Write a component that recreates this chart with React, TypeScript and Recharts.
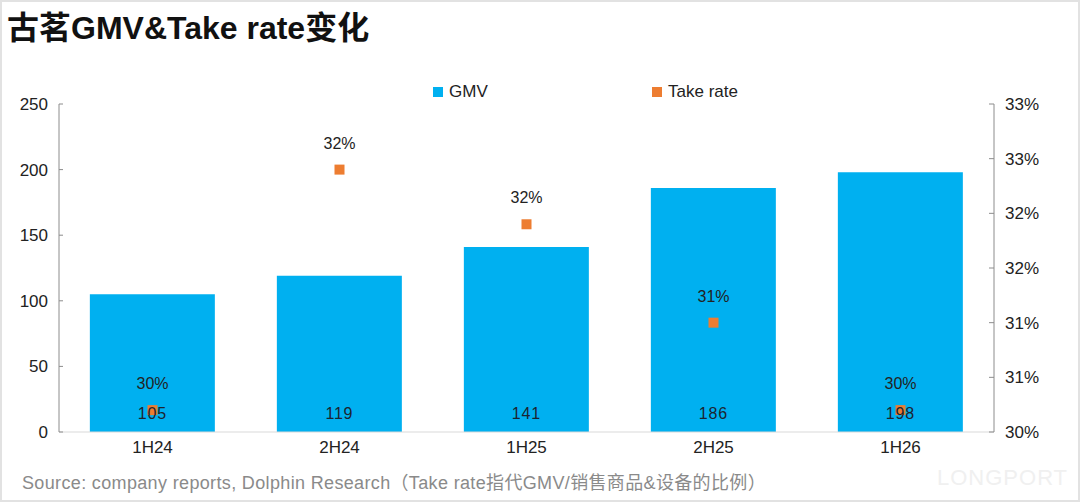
import React from 'react';
import {
  ComposedChart,
  Bar,
  Line,
  XAxis,
  YAxis,
  Legend,
  LabelList,
} from 'recharts';

const periods = ['1H24', '2H24', '1H25', '2H25', '1H26'];
const gmv = [105, 119, 141, 186, 198];
const takeRate = [30.2, 32.4, 31.9, 31.0, 30.2];
const gmvTicks = [0, 50, 100, 150, 200, 250];
const rateTicks = [30, 30.5, 31, 31.5, 32, 32.5, 33];

const data = periods.map((p, i) => ({ period: p, gmv: gmv[i], rate: takeRate[i] }));

const FONT = '"Liberation Sans", Arial, "Noto Sans CJK SC", sans-serif';
const BLUE = '#00B0F0';
const ORANGE = '#ED7D31';

const renderLegend = () => (
  <div style={{ position: 'relative', height: 26, fontFamily: FONT, fontSize: 17, color: '#222' }}>
    <div style={{ position: 'absolute', left: 433, top: 4, display: 'flex', alignItems: 'center' }}>
      <span style={{ width: 10, height: 10, background: BLUE, marginRight: 6 }} />
      GMV
    </div>
    <div style={{ position: 'absolute', left: 652, top: 4, display: 'flex', alignItems: 'center' }}>
      <span style={{ width: 10, height: 10, background: ORANGE, marginRight: 6 }} />
      Take rate
    </div>
  </div>
);

const barLabel = (props: any) => {
  const { x, y, width, height, value } = props;
  return (
    <text x={x + width / 2} y={y + height - 13} textAnchor="middle" fill="#1c2430" fontSize={16} fontFamily={FONT} letterSpacing={0.8}>
      {value}
    </text>
  );
};

const rateLabel = (props: any) => {
  const { x, y, value } = props;
  return (
    <text x={x} y={y - 21} textAnchor="middle" fill="#222" fontSize={16} fontFamily={FONT}>
      {Math.round(value)}%
    </text>
  );
};

const squareDot = (props: any) => {
  const { cx, cy, index } = props;
  return <rect key={index} x={cx - 5} y={cy - 5} width={10} height={10} fill={ORANGE} />;
};

export default function App() {
  return (
    <div
      style={{
        position: 'absolute',
        left: 0,
        top: 0,
        width: 1080,
        height: 502,
        background: '#fff',
        border: '2px solid #e2e2e2',
        boxSizing: 'border-box',
        fontFamily: FONT,
      }}
    >
      <div style={{ position: 'absolute', left: 5, top: 0, fontSize: 32, fontWeight: 'bold', color: '#111', whiteSpace: 'nowrap' }}>
        古茗GMV&amp;Take rate变化
      </div>
      <div style={{ position: 'absolute', left: -2, top: -2 }}>
        <ComposedChart
          width={1080}
          height={502}
          data={data}
          margin={{ top: 104, right: 0, left: 0, bottom: 40 }}
          barCategoryGap="16.5%"
        >
          <XAxis
            dataKey="period"
            tickSize={0}
            tickMargin={9}
            height={30}
            axisLine={{ stroke: '#d9d9d9' }}
            tick={{ fill: '#222', fontSize: 17, fontFamily: FONT }}
          />
          <YAxis
            yAxisId="left"
            width={59}
            domain={[0, 250]}
            ticks={gmvTicks}
            tickSize={-4}
            tickMargin={15}
            axisLine={{ stroke: '#8c8c8c' }}
            tickLine={{ stroke: '#8c8c8c' }}
            tick={{ fill: '#222', fontSize: 17, fontFamily: FONT }}
          />
          <YAxis
            yAxisId="right"
            orientation="right"
            width={86}
            domain={[30, 33]}
            ticks={rateTicks}
            tickSize={-5}
            tickMargin={16}
            axisLine={{ stroke: '#8c8c8c' }}
            tickLine={{ stroke: '#8c8c8c' }}
            tick={{ fill: '#222', fontSize: 17, fontFamily: FONT, textAnchor: 'start' }}
            tickFormatter={(v: number) => `${Math.round(v)}%`}
            allowDataOverflow
          />
          <Legend
            layout="horizontal"
            verticalAlign="middle"
            align="center"
            wrapperStyle={{ top: 78, left: 0, width: 1080 }}
            content={renderLegend}
          />
          <Bar yAxisId="left" dataKey="gmv" name="GMV" fill={BLUE} isAnimationActive={false}>
            <LabelList dataKey="gmv" content={barLabel} />
          </Bar>
          <Line
            yAxisId="right"
            dataKey="rate"
            name="Take rate"
            stroke="none"
            strokeWidth={0}
            dot={squareDot}
            activeDot={false}
            isAnimationActive={false}
          >
            <LabelList dataKey="rate" content={rateLabel} />
          </Line>
        </ComposedChart>
      </div>
      <div style={{ position: 'absolute', left: 20, top: 466, fontSize: 18, letterSpacing: 0.35, color: '#8a8a8a', whiteSpace: 'nowrap' }}>
        Source: company reports, Dolphin Research（Take rate指代GMV/销售商品&amp;设备的比例）
      </div>
      <div style={{ position: 'absolute', left: 935, top: 463, fontSize: 22, color: '#f0f0f0', letterSpacing: 1, whiteSpace: 'nowrap' }}>
        LONGPORT
      </div>
    </div>
  );
}
